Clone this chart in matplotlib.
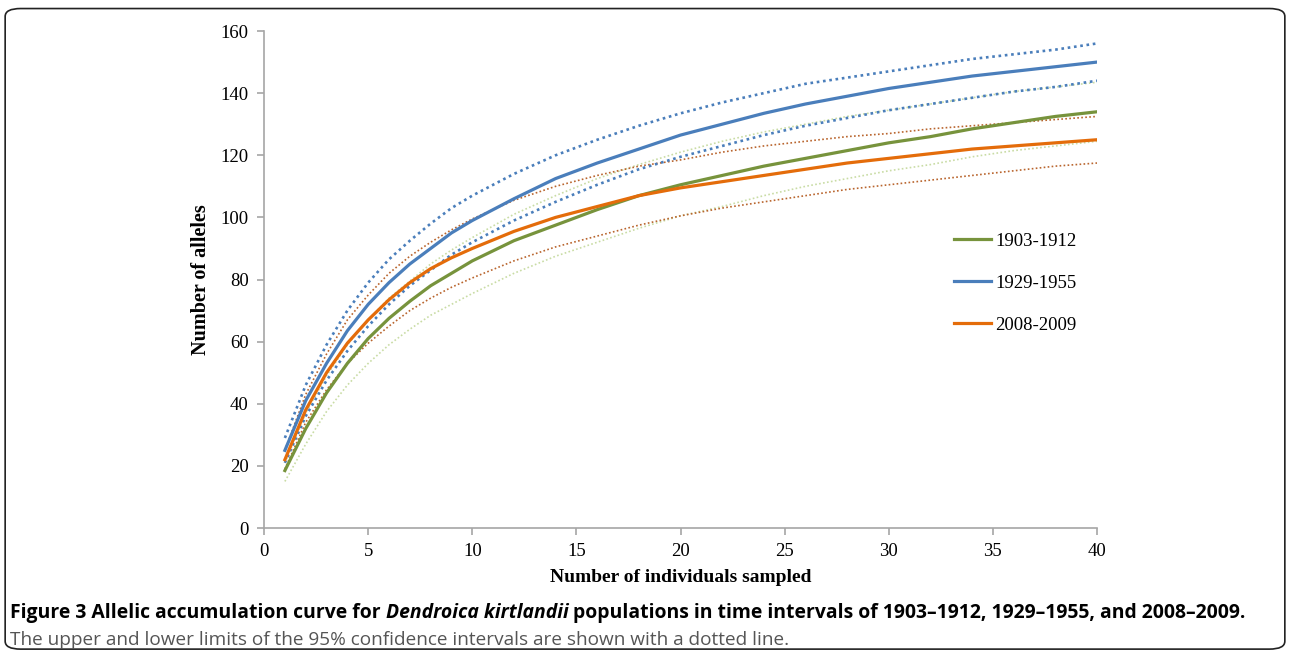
import matplotlib.pyplot as plt
from matplotlib.patches import FancyBboxPatch

# ----------------------------
# Data
# ----------------------------
n_ind = [1, 2, 3, 4, 5, 6, 7, 8, 9, 10, 12, 14, 16, 18, 20,
         22, 24, 26, 28, 30, 32, 34, 36, 38, 40]

g_mean = [18.5, 32, 43.5, 53, 61, 67.5, 73, 78, 82, 86, 92.5, 97.5, 102.5, 107, 110.5,
          113.5, 116.5, 119, 121.5, 124, 126, 128.5, 130.5, 132.5, 134]
g_up = [21, 37, 49, 59, 67, 74, 79.5, 85, 89.5, 93.5, 101, 107, 112.5, 117, 121,
        124.5, 127.5, 130, 132.5, 134.5, 136.5, 138.5, 140.5, 142, 143.5]
g_lo = [15, 27, 37.5, 46, 53, 59, 64, 68.5, 72, 75.5, 82, 87.5, 92, 96.5, 100.5,
        103.5, 107, 110, 112.5, 115, 117, 119.5, 121.5, 123, 124.5]

b_mean = [25, 41, 53, 63.5, 72, 79, 85, 90, 95, 99, 106, 112.5, 117.5, 122, 126.5,
          130, 133.5, 136.5, 139, 141.5, 143.5, 145.5, 147, 148.5, 150]
b_up = [29, 46, 59, 70, 79, 86.5, 92.5, 98, 103, 107, 114, 120, 125, 129.5, 133.5,
        137, 140, 143, 145, 147, 149, 151, 152.5, 154, 156]
b_lo = [21, 36, 47.5, 57, 65, 72, 78, 83, 88, 92, 99, 105, 110.5, 115.5, 119.5,
        123, 126.5, 129.5, 132, 134.5, 136.5, 138.5, 140.5, 142, 144]

o_mean = [22, 38, 50, 59.5, 67, 73.5, 79, 83.5, 87, 90, 95.5, 100, 103.5, 107, 109.5,
          111.5, 113.5, 115.5, 117.5, 119, 120.5, 122, 123, 124, 125]
o_up = [25, 43, 56, 67, 75, 82, 87.5, 92, 96, 99.5, 105.5, 110, 113.5, 116.5, 118.5,
        121, 123, 124.5, 126, 127, 128.5, 129.5, 130.5, 131.5, 132.5]
o_lo = [19, 34, 44.5, 53, 59.5, 65, 70, 74, 77.5, 80.5, 86, 90.5, 94, 97.5, 100.5,
        103, 105, 107, 109, 110.5, 112, 113.5, 115, 116.5, 117.5]

labels = ['1903-1912', '1929-1955', '2008-2009']

# ----------------------------
# Figure
# ----------------------------
fig = plt.figure(figsize=(12.9, 6.57), dpi=100)
ax = fig.add_axes([0.2047, 0.1963, 0.6457, 0.7565])

serif = ['Liberation Serif', 'DejaVu Serif']
c_green, c_blue, c_orange = '#77933C', '#4A7EBB', '#E46C0A'
c_lgreen, c_brown = '#C9DCA5', '#B9652E'

# confidence limits (dotted)
for ys in (g_up, g_lo):
    ax.plot(n_ind, ys, color=c_lgreen, lw=1.2, dashes=(1, 1.4), dash_capstyle='butt')
for ys in (o_up, o_lo):
    ax.plot(n_ind, ys, color=c_brown, lw=1.2, dashes=(1, 1.4), dash_capstyle='butt')
for ys in (b_up, b_lo):
    ax.plot(n_ind, ys, color=c_blue, lw=1.9, dashes=(1, 1.4), dash_capstyle='butt')

# means
l_g, = ax.plot(n_ind, g_mean, color=c_green, lw=2.3, label=labels[0])
l_b, = ax.plot(n_ind, b_mean, color=c_blue, lw=2.3, label=labels[1])
l_o, = ax.plot(n_ind, o_mean, color=c_orange, lw=2.3, label=labels[2])

ax.set_xlim(0, 40)
ax.set_ylim(0, 160)
ax.set_xticks(range(0, 41, 5))
ax.set_yticks(range(0, 161, 20))
for s in ('top', 'right'):
    ax.spines[s].set_visible(False)
for s in ('left', 'bottom'):
    ax.spines[s].set_color('#A6A6A6')
    ax.spines[s].set_linewidth(1.2)
ax.tick_params(direction='out', length=5, width=1.2, color='#A6A6A6',
               labelsize=13.5, pad=6)
for t in ax.get_xticklabels() + ax.get_yticklabels():
    t.set_fontfamily(serif)

ax.set_xlabel('Number of individuals sampled', fontsize=14, fontweight='bold',
              family=serif, labelpad=6)
ax.set_ylabel('Number of alleles', fontsize=14.5, fontweight='bold',
              family=serif, labelpad=7)

ax.legend(handles=[l_g, l_b, l_o], loc='upper left', bbox_to_anchor=(0.808, 0.628),
          frameon=False, prop={'family': serif, 'size': 13.5},
          handlelength=2.0, handletextpad=0.2, labelspacing=1.32)

# ----------------------------
# Border and caption
# ----------------------------
box = FancyBboxPatch((0.004, 0.012), 0.992, 0.975, transform=fig.transFigure,
                     boxstyle='round,pad=0,rounding_size=0.012',
                     fill=False, ec='#222222', lw=1.2)
fig.patches.append(box)

cap_font = ['Open Sans', 'DejaVu Sans']
cap_y = 1 - 613 / 657
parts = [('Figure 3 Allelic accumulation curve for ', 'normal'),
         ('Dendroica kirtlandii', 'italic'),
         (' populations in time intervals of 1903\u20131912, 1929\u20131955, and 2008\u20132009.', 'normal')]
renderer = fig.canvas.get_renderer()
x0 = 10 / 1290
for txt, style in parts:
    t = fig.text(x0, cap_y, txt, fontsize=13.95, fontweight='bold', style=style,
                 family=cap_font, va='center', ha='left')
    bb = t.get_window_extent(renderer=renderer)
    x0 += bb.width / fig.bbox.width

fig.text(10 / 1290, 1 - 640 / 657,
         'The upper and lower limits of the 95% confidence intervals are shown with a dotted line.',
         fontsize=13.7, color='#555555', family=cap_font, va='center', ha='left')

fig.savefig('out.png', dpi=100)
